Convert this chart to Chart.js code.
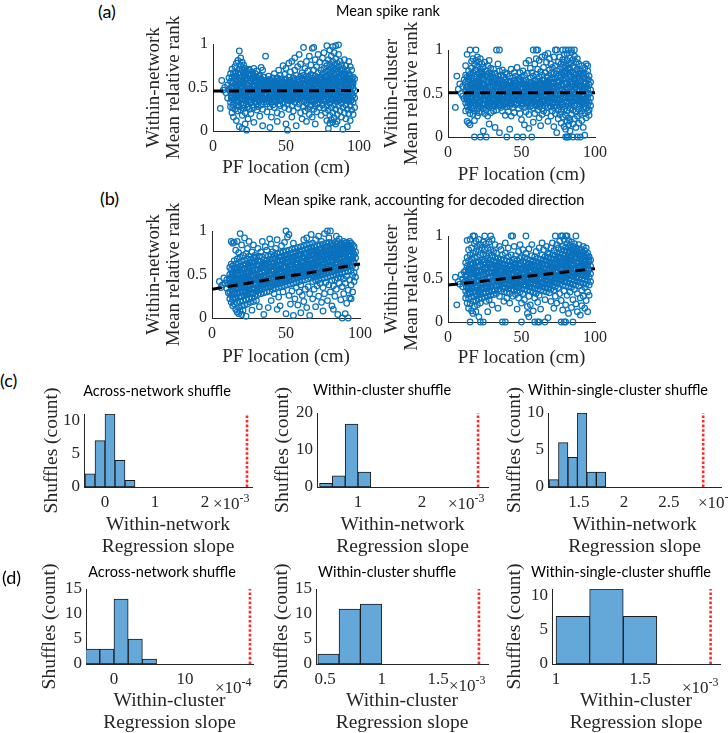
<!DOCTYPE html>
<html><head><meta charset="utf-8">
<script src="https://cdn.jsdelivr.net/npm/chart.js@4.4.1/dist/chart.umd.min.js"></script>
<style>
html,body{margin:0;padding:0;background:#fff;}
#fig{position:relative;width:728px;height:733px;overflow:hidden;background:#fff;}
sup{font-size:12px;vertical-align:7px;line-height:0;}
</style></head>
<body><div id="fig"></div>
<script>
// ---------- DATA ----------
// Scatter panels: [PF location (cm), mean relative rank in %]
const scatterA1 = [[5,26],[6,58],[7,47],[8,50],[9,44],[10,53],[10,38],[11,61],[11,47],
[12,45],[12,33],[12,57],[12,66],[12,28],[13,51],[13,41],[13,62],[13,36],[13,21],[13,71],
[14,48],[14,30],[14,55],[14,67],[14,43],[14,16],[15,53],[15,37],[15,60],[15,25],[15,74],[15,46],
[16,41],[16,63],[16,51],[16,29],[16,78],[16,12],[16,57],[17,47],[17,34],[17,66],[17,59],[17,23],[17,81],[17,44],
[18,54],[18,39],[18,71],[18,61],[18,28],[18,92],[18,46],[18,5],[19,49],[19,32],[19,75],[19,57],[19,24],[19,67],[19,84],[19,41],
[20,44],[20,62],[20,36],[20,71],[20,52],[20,18],[20,79],[20,3],[21,55],[21,30],[21,68],[21,47],[21,40],[21,76],[21,26],
[22,50],[22,64],[22,35],[22,58],[22,43],[22,21],[22,72],[22,8],[23,46],[23,61],[23,31],[23,54],[23,69],[23,38],[23,1],
[24,52],[24,40],[24,66],[24,28],[24,59],[24,45],[24,14],[25,48],[25,36],[25,63],[25,55],[25,25],[25,70],[25,42],
[26,57],[26,33],[26,47],[26,65],[26,40],[26,20],[27,44],[27,60],[27,51],[27,30],[27,68],[27,37],
[28,53],[28,41],[28,62],[28,27],[28,48],[28,72],[28,10],[29,47],[29,58],[29,34],[29,66],[29,52],
[30,41],[30,56],[30,31],[30,62],[30,49],[30,24],[30,69],[31,51],[31,37],[31,59],[31,44],[31,28],
[32,46],[32,55],[32,36],[32,64],[32,40],[32,17],[33,53],[33,43],[33,30],[33,60],[33,73],
[34,45],[34,57],[34,38],[34,25],[34,6],[34,70],[35,49],[35,41],[35,62],[35,33],[35,55],
[36,44],[36,52],[36,37],[36,58],[36,86],[37,48],[37,41],[37,31],[37,57],[37,22],
[38,46],[38,38],[38,54],[38,34],[38,63],[39,43],[39,51],[39,37],[39,28],[39,4],[39,59],
[40,50],[40,44],[40,57],[40,33],[40,16],[41,47],[41,39],[41,53],[41,61],[41,30],
[42,42],[42,51],[42,36],[42,27],[42,66],[42,47],[43,49],[43,40],[43,56],[43,34],
[44,45],[44,53],[44,38],[44,61],[44,21],[44,11],[45,42],[45,48],[45,35],[45,58],[45,70],[45,52],
[46,47],[46,41],[46,55],[46,29],[46,64],[47,44],[47,51],[47,37],[47,60],[47,19],[47,48],
[48,43],[48,50],[48,32],[48,56],[48,75],[49,46],[49,39],[49,54],[49,27],[49,65],
[50,44],[50,51],[50,36],[50,59],[50,8],[50,72],[51,48],[51,41],[51,56],[51,31],[51,1],
[52,45],[52,38],[52,53],[52,62],[52,25],[52,78],[53,42],[53,50],[53,35],[53,58],[53,68],
[54,47],[54,40],[54,55],[54,29],[54,16],[54,80],[55,44],[55,52],[55,37],[55,61],[55,23],
[56,49],[56,42],[56,57],[56,33],[56,70],[56,84],[57,46],[57,38],[57,54],[57,64],[57,6],
[58,43],[58,51],[58,36],[58,60],[58,27],[58,74],[59,48],[59,41],[59,56],[59,31],[59,88],
[60,45],[60,53],[60,38],[60,63],[60,21],[60,77],[61,42],[61,50],[61,34],[61,58],[61,67],[61,14],
[62,47],[62,39],[62,55],[62,28],[62,64],[62,96],[63,44],[63,52],[63,36],[63,60],[63,23],[63,72],
[64,49],[64,41],[64,57],[64,32],[64,80],[64,11],[65,46],[65,38],[65,54],[65,62],[65,26],[65,69],
[66,43],[66,51],[66,35],[66,59],[66,19],[66,86],[67,48],[67,40],[67,56],[67,30],[67,65],[67,76],
[68,45],[68,53],[68,37],[68,61],[68,95],[68,16],[69,42],[69,50],[69,34],[69,58],[69,25],[69,70],[69,96],
[70,47],[70,39],[70,55],[70,63],[70,29],[70,82],[70,8],[71,44],[71,52],[71,36],[71,60],[71,22],[71,74],
[72,49],[72,41],[72,57],[72,32],[72,67],[72,88],[73,46],[73,38],[73,54],[73,62],[73,27],[73,79],
[74,43],[74,51],[74,35],[74,59],[74,70],[74,18],[75,48],[75,40],[75,56],[75,30],[75,65],[75,84],
[76,45],[76,53],[76,37],[76,61],[76,26],[76,72],[76,90],[77,42],[77,50],[77,34],[77,58],[77,68],[77,21],[77,78],
[78,47],[78,39],[78,55],[78,63],[78,29],[78,75],[78,98],[78,12],[79,44],[79,52],[79,36],[79,60],[79,70],[79,24],[79,82],[79,3],
[80,49],[80,41],[80,57],[80,32],[80,66],[80,77],[80,18],[80,9],[80,93],[81,46],[81,38],[81,54],[81,62],[81,27],[81,73],[81,86],[81,13],
[82,43],[82,51],[82,35],[82,59],[82,69],[82,80],[82,21],[82,10],[82,97],[83,48],[83,40],[83,56],[83,30],[83,65],[83,76],[83,15],[83,90],
[84,45],[84,53],[84,37],[84,61],[84,71],[84,25],[84,83],[84,8],[84,98],[85,42],[85,50],[85,34],[85,58],[85,68],[85,78],[85,19],[85,11],
[86,47],[86,39],[86,55],[86,63],[86,29],[86,74],[86,88],[86,99],[87,44],[87,52],[87,36],[87,60],[87,70],[87,23],[87,80],
[88,49],[88,41],[88,57],[88,32],[88,66],[88,76],[88,16],[89,46],[89,38],[89,54],[89,62],[89,27],[89,72],[89,2],
[90,43],[90,51],[90,35],[90,59],[90,68],[90,21],[90,82],[91,48],[91,40],[91,56],[91,30],[91,65],[91,14],[91,75],
[92,45],[92,53],[92,37],[92,61],[92,25],[92,70],[92,5],[93,42],[93,50],[93,34],[93,58],[93,20],[93,66],[93,80],
[94,47],[94,39],[94,55],[94,29],[94,63],[94,12],[94,74],[95,44],[95,52],[95,36],[95,60],[95,24],[95,57],[95,70],
[96,49],[96,41],[96,33],[96,62],[96,19],[96,55],[97,46],[97,38],[97,27],[97,60]];
const scatterA1Core = [[12.5,50],[13.5,27],[14.5,63],[15.5,42],[16.5,35],[17.5,54],[18.5,65],[19.5,44],[20.5,30],[21.5,60],[22.5,39],[23.5,49],[24.5,71],[25.5,33],[26.5,52],[27.5,41],[28.5,57],[29.5,38],[30.5,45],[31.5,63],[32.5,51],[33.5,37],[34.5,48],[35.5,44],[36.5,40],[37.5,53],[38.5,49],[39.5,42],[40.5,38],[41.5,49],[42.5,55],[43.5,45],[44.5,40],[45.5,46],[46.5,51],[47.5,41],[48.5,47],[49.5,52],[50.5,40],[51.5,45],[52.5,49],[53.5,39],[54.5,51],[55.5,47],[56.5,38],[57.5,50],[58.5,47],[59.5,37],[60.5,50],[61.5,45],[62.5,52],[63.5,41],[64.5,45],[65.5,58],[66.5,48],[67.5,35],[68.5,49],[69.5,54],[70.5,43],[71.5,49],[72.5,37],[73.5,58],[74.5,47],[75.5,53],[76.5,41],[77.5,62],[78.5,51],[79.5,33],[80.5,46],[81.5,58],[82.5,40],[83.5,52],[84.5,66],[85.5,46],[86.5,36],[87.5,57],[88.5,45],[89.5,64],[90.5,48],[91.5,36],[92.5,58],[93.5,46],[94.5,52],[95.5,40],
[12.5,38],[13.5,56],[14.5,36],[15.5,68],[16.5,46],[17.5,29],[18.5,50],[19.5,37],[20.5,57],[21.5,44],[22.5,67],[23.5,27],[24.5,36],[25.5,58],[26.5,44],[27.5,65],[28.5,33],[29.5,61],[30.5,53],[31.5,34],[32.5,43],[33.5,58],[34.5,62],[35.5,36],[36.5,57],[37.5,35],[38.5,59],[39.5,55],[40.5,53],[41.5,35],[42.5,41],[43.5,60],[44.5,57],[45.5,31],[46.5,36],[47.5,56],[48.5,38],[49.5,60],[50.5,55],[51.5,35],[52.5,58],[53.5,47],[54.5,36],[55.5,59],[56.5,54],[57.5,43],[58.5,56],[59.5,52],[60.5,41],[61.5,60],[62.5,34],[63.5,55],[64.5,60],[65.5,40],[66.5,28],[67.5,54],[68.5,64],[69.5,39],[70.5,58],[71.5,31],[72.5,56],[73.5,44],[74.5,62],[75.5,36],[76.5,57],[77.5,45],[78.5,68],[79.5,56],[80.5,61],[81.5,36],[82.5,72],[83.5,43],[84.5,34],[85.5,62],[86.5,51],[87.5,41],[88.5,70],[89.5,38],[90.5,55],[91.5,61],[92.5,43],[93.5,63],[94.5,35],[95.5,56]];

const scatterA2 = [[5,34],[6,70],[7,55],[8,61],[9,50],[10,47],[10,58],[11,44],[11,66],
[12,52],[12,39],[12,63],[12,71],[12,30],[12,82],[13,47],[13,58],[13,35],[13,69],[13,18],[13,44],[13,95],
[14,55],[14,42],[14,66],[14,31],[14,76],[14,16],[14,50],[15,49],[15,61],[15,38],[15,72],[15,27],[15,100],[15,56],[15,14],
[16,53],[16,44],[16,68],[16,33],[16,79],[16,58],[16,87],[17,46],[17,59],[17,36],[17,74],[17,64],[17,26],[17,90],[17,51],
[18,57],[18,41],[18,70],[18,48],[18,30],[18,84],[18,0],[18,62],[18,19],[19,50],[19,63],[19,37],[19,77],[19,56],[19,100],[19,43],[19,88],
[20,54],[20,45],[20,67],[20,32],[20,81],[20,60],[20,24],[20,92],[21,48],[21,58],[21,39],[21,73],[21,65],[21,28],[21,86],
[22,52],[22,42],[22,69],[22,35],[22,78],[22,0],[22,59],[22,90],[23,47],[23,61],[23,38],[23,75],[23,55],[23,29],[23,84],
[24,55],[24,44],[24,66],[24,33],[24,80],[24,7],[24,50],[24,72],[25,49],[25,60],[25,37],[25,71],[25,27],[25,86],[25,43],
[26,53],[26,41],[26,64],[26,31],[26,76],[26,0],[26,57],[27,46],[27,58],[27,36],[27,69],[27,82],[27,52],[27,24],
[28,51],[28,43],[28,62],[28,34],[28,74],[28,88],[28,15],[29,48],[29,57],[29,39],[29,67],[29,28],[29,79],
[30,54],[30,42],[30,63],[30,36],[30,72],[30,47],[31,49],[31,59],[31,38],[31,68],[31,30],[31,78],
[32,52],[32,44],[32,61],[32,35],[32,73],[32,11],[33,47],[33,56],[33,40],[33,65],[33,100],[33,31],
[34,53],[34,43],[34,62],[34,37],[34,70],[34,84],[35,48],[35,58],[35,39],[35,66],[35,100],[35,5],[35,76],
[36,51],[36,44],[36,60],[36,34],[36,71],[37,46],[37,55],[37,40],[37,64],[37,30],[37,77],
[38,52],[38,43],[38,61],[38,37],[38,69],[39,49],[39,57],[39,38],[39,66],[39,25],[39,74],
[40,53],[40,45],[40,60],[40,35],[40,0],[40,72],[41,47],[41,56],[41,41],[41,64],[41,29],
[42,51],[42,42],[42,59],[42,36],[42,70],[42,9],[43,48],[43,55],[43,39],[43,63],[43,78],[43,24],
[44,52],[44,44],[44,61],[44,34],[44,68],[45,46],[45,57],[45,40],[45,65],[45,74],[45,28],
[46,50],[46,43],[46,59],[46,37],[46,70],[47,47],[47,54],[47,38],[47,62],[47,0],[47,80],
[48,53],[48,45],[48,60],[48,33],[48,67],[49,49],[49,56],[49,41],[49,64],[49,27],[49,74],
[50,51],[50,43],[50,58],[50,36],[50,69],[50,20],[51,47],[51,55],[51,39],[51,62],[51,0],[51,76],
[52,52],[52,44],[52,60],[52,34],[52,71],[52,14],[53,48],[53,57],[53,40],[53,65],[53,29],[53,85],
[54,53],[54,45],[54,61],[54,37],[54,73],[55,49],[55,56],[55,41],[55,63],[55,26],[55,88],[55,10],
[56,51],[56,43],[56,59],[56,35],[56,68],[56,79],[57,46],[57,55],[57,39],[57,62],[57,0],[57,74],
[58,52],[58,44],[58,60],[58,33],[58,70],[58,100],[58,17],[59,48],[59,57],[59,41],[59,65],[59,27],[59,84],
[60,53],[60,45],[60,61],[60,36],[60,100],[60,72],[60,90],[61,49],[61,56],[61,40],[61,64],[61,31],[61,100],[61,78],
[62,51],[62,43],[62,59],[62,35],[62,69],[62,88],[62,22],[63,47],[63,55],[63,38],[63,62],[63,75],[63,13],
[64,53],[64,44],[64,60],[64,33],[64,71],[64,92],[64,26],[65,48],[65,57],[65,41],[65,65],[65,30],[65,80],
[66,52],[66,42],[66,61],[66,36],[66,74],[66,94],[67,46],[67,55],[67,39],[67,63],[67,28],[67,86],
[68,51],[68,44],[68,59],[68,34],[68,70],[68,96],[68,18],[69,48],[69,56],[69,40],[69,66],[69,77],[69,90],
[70,53],[70,45],[70,62],[70,35],[70,73],[70,24],[70,84],[71,47],[71,58],[71,38],[71,67],[71,30],[71,80],
[72,52],[72,43],[72,61],[72,34],[72,74],[72,92],[72,12],[73,49],[73,57],[73,40],[73,68],[73,100],[73,27],[73,82],
[74,54],[74,45],[74,63],[74,36],[74,76],[74,100],[74,5],[75,48],[75,59],[75,39],[75,70],[75,31],[75,86],[75,21],
[76,53],[76,44],[76,64],[76,35],[76,78],[76,92],[76,26],[77,50],[77,60],[77,40],[77,71],[77,29],[77,84],[77,16],
[78,55],[78,46],[78,66],[78,37],[78,80],[78,100],[78,23],[78,89],[79,49],[79,61],[79,42],[79,73],[79,32],[79,86],[79,12],[79,95],
[80,54],[80,45],[80,67],[80,36],[80,82],[80,100],[80,0],[80,25],[80,76],[80,9],[81,51],[81,62],[81,41],[81,75],[81,30],[81,88],[81,0],[81,18],[81,96],
[82,56],[82,47],[82,69],[82,38],[82,84],[82,100],[82,0],[82,22],[82,78],[82,14],[83,50],[83,63],[83,43],[83,77],[83,33],[83,91],[83,7],[83,58],[83,19],
[84,55],[84,46],[84,70],[84,37],[84,85],[84,100],[84,26],[84,64],[84,97],[85,49],[85,61],[85,41],[85,74],[85,31],[85,89],[85,0],[85,15],[85,81],
[86,54],[86,45],[86,67],[86,36],[86,80],[86,100],[86,21],[86,93],[87,50],[87,62],[87,42],[87,72],[87,29],[87,86],[87,11],[87,58],
[88,55],[88,46],[88,68],[88,38],[88,78],[88,0],[88,24],[88,90],[89,49],[89,60],[89,41],[89,73],[89,32],[89,84],[89,16],
[90,53],[90,44],[90,65],[90,36],[90,76],[90,0],[90,27],[90,58],[91,48],[91,59],[91,40],[91,70],[91,30],[91,82],[91,19],
[92,52],[92,43],[92,63],[92,34],[92,74],[92,11],[92,56],[93,47],[93,57],[93,38],[93,68],[93,27],[93,79],[93,2],
[94,51],[94,42],[94,62],[94,33],[94,72],[94,22],[94,84],[95,46],[95,55],[95,37],[95,66],[95,29],[95,76],[95,82],
[96,50],[96,40],[96,60],[96,31],[96,70],[96,25],[97,45],[97,54],[97,36],[97,63]];
const scatterA2Core = [[12.5,57],[13.5,40],[14.5,70],[15.5,46],[16.5,62],[17.5,33],[18.5,77],[19.5,53],[20.5,40],[21.5,62],[22.5,47],[23.5,68],[24.5,38],[25.5,55],[26.5,72],[27.5,44],[28.5,58],[29.5,36],[30.5,51],[31.5,64],[32.5,40],[33.5,59],[34.5,48],[35.5,53],[36.5,42],[37.5,61],[38.5,47],[39.5,54],[40.5,39],[41.5,52],[42.5,63],[43.5,44],[44.5,57],[45.5,50],[46.5,39],[47.5,58],[48.5,49],[49.5,42],[50.5,61],[51.5,51],[52.5,45],[53.5,56],[54.5,41],[55.5,52],[56.5,63],[57.5,48],[58.5,55],[59.5,38],[60.5,58],[61.5,46],[62.5,64],[63.5,51],[64.5,40],[65.5,61],[66.5,48],[67.5,68],[68.5,55],[69.5,36],[70.5,50],[71.5,63],[72.5,45],[73.5,72],[74.5,58],[75.5,42],[76.5,68],[77.5,54],[78.5,75],[79.5,45],[80.5,62],[81.5,79],[82.5,51],[83.5,69],[84.5,40],[85.5,66],[86.5,57],[87.5,77],[88.5,48],[89.5,64],[90.5,41],[91.5,55],[92.5,68],[93.5,44],[94.5,58],[95.5,49],
[12.5,45],[13.5,64],[14.5,50],[15.5,35],[16.5,41],[17.5,56],[18.5,45],[19.5,69],[20.5,58],[21.5,36],[22.5,73],[23.5,52],[24.5,60],[25.5,43],[26.5,48],[27.5,65],[28.5,39],[29.5,70],[30.5,44],[31.5,37],[32.5,67],[33.5,45],[34.5,62],[35.5,37],[36.5,58],[37.5,49],[38.5,66],[39.5,40],[40.5,56],[41.5,44],[42.5,38],[43.5,59],[44.5,42],[45.5,62],[46.5,53],[47.5,43],[48.5,66],[49.5,56],[50.5,38],[51.5,64],[52.5,58],[53.5,40],[54.5,60],[55.5,44],[56.5,36],[57.5,60],[58.5,42],[59.5,52],[60.5,44],[61.5,61],[62.5,38],[63.5,56],[64.5,66],[65.5,43],[66.5,60],[67.5,41],[68.5,63],[69.5,58],[70.5,67],[71.5,40],[72.5,57],[73.5,48],[74.5,39],[75.5,63],[76.5,50],[77.5,38],[78.5,58],[79.5,70],[80.5,40],[81.5,55],[82.5,72],[83.5,45],[84.5,61],[85.5,52],[86.5,71],[87.5,44],[88.5,62],[89.5,38],[90.5,60],[91.5,72],[92.5,49],[93.5,61],[94.5,41],[95.5,66]];

const scatterB1 = [[5,42],[6,35],[7,38],[8,46],[9,40],[10,34],[10,44],[11,39],[11,29],
[12,40],[12,30],[12,50],[12,22],[12,58],[12,45],[13,36],[13,47],[13,26],[13,55],[13,18],[13,62],[13,88],
[14,42],[14,31],[14,52],[14,21],[14,60],[14,14],[14,86],[14,38],[15,37],[15,48],[15,27],[15,57],[15,16],[15,66],[15,87],[15,44],
[16,43],[16,33],[16,53],[16,23],[16,62],[16,10],[16,78],[16,39],[17,38],[17,49],[17,28],[17,58],[17,17],[17,68],[17,88],[17,7],[17,45],
[18,44],[18,34],[18,55],[18,24],[18,63],[18,12],[18,75],[18,5],[18,40],[19,39],[19,50],[19,29],[19,59],[19,19],[19,70],[19,97],[19,8],[19,46],
[20,45],[20,35],[20,56],[20,25],[20,65],[20,14],[20,84],[20,4],[20,41],[21,40],[21,51],[21,30],[21,61],[21,20],[21,72],[21,9],[21,47],
[22,46],[22,36],[22,57],[22,26],[22,66],[22,15],[22,92],[22,42],[23,41],[23,52],[23,31],[23,62],[23,21],[23,74],[23,2],[23,48],
[24,47],[24,37],[24,58],[24,27],[24,68],[24,16],[24,80],[24,43],[25,42],[25,53],[25,32],[25,63],[25,22],[25,71],[25,88],[25,49],
[26,48],[26,38],[26,59],[26,28],[26,67],[26,18],[26,44],[27,43],[27,54],[27,33],[27,64],[27,23],[27,76],[27,9],
[28,49],[28,39],[28,60],[28,29],[28,69],[28,19],[28,84],[29,44],[29,55],[29,34],[29,65],[29,25],[29,72],
[30,50],[30,40],[30,61],[30,31],[30,70],[30,20],[30,46],[31,45],[31,56],[31,36],[31,66],[31,27],[31,80],
[32,51],[32,41],[32,60],[32,32],[32,71],[32,13],[33,46],[33,57],[33,37],[33,65],[33,28],[33,76],
[34,52],[34,42],[34,62],[34,33],[34,70],[34,88],[35,47],[35,58],[35,38],[35,67],[35,29],[35,4],
[36,53],[36,43],[36,61],[36,35],[36,72],[36,82],[37,48],[37,57],[37,39],[37,66],[37,30],[37,78],
[38,54],[38,44],[38,63],[38,36],[38,71],[38,12],[39,49],[39,58],[39,40],[39,67],[39,31],[39,91],
[40,55],[40,45],[40,64],[40,37],[40,73],[40,20],[40,85],[41,50],[41,59],[41,41],[41,68],[41,33],[41,76],
[42,54],[42,46],[42,63],[42,38],[42,72],[42,28],[43,51],[43,60],[43,42],[43,69],[43,34],[43,80],
[44,56],[44,47],[44,65],[44,39],[44,74],[44,10],[44,90],[45,52],[45,61],[45,43],[45,70],[45,35],[45,24],
[46,57],[46,48],[46,66],[46,40],[46,75],[46,14],[47,53],[47,62],[47,44],[47,71],[47,36],[47,83],
[48,58],[48,49],[48,67],[48,41],[48,76],[48,30],[49,54],[49,63],[49,45],[49,72],[49,37],[49,87],
[50,59],[50,50],[50,68],[50,42],[50,77],[50,100],[50,5],[51,55],[51,64],[51,46],[51,73],[51,38],[51,93],
[52,60],[52,51],[52,69],[52,43],[52,78],[52,26],[52,96],[53,56],[53,65],[53,47],[53,74],[53,39],[53,16],
[54,61],[54,52],[54,70],[54,44],[54,79],[54,31],[55,57],[55,66],[55,48],[55,75],[55,40],[55,3],[55,86],
[56,62],[56,53],[56,71],[56,45],[56,80],[56,22],[57,58],[57,67],[57,49],[57,76],[57,41],[57,35],
[58,63],[58,54],[58,72],[58,46],[58,81],[58,15],[59,59],[59,68],[59,50],[59,77],[59,42],[59,30],
[60,64],[60,55],[60,73],[60,47],[60,82],[60,38],[60,6],[61,60],[61,69],[61,51],[61,78],[61,43],[61,26],
[62,65],[62,56],[62,74],[62,48],[62,83],[62,90],[62,19],[63,61],[63,70],[63,52],[63,79],[63,44],[63,33],
[64,66],[64,57],[64,75],[64,49],[64,84],[64,12],[64,92],[65,62],[65,71],[65,53],[65,80],[65,45],[65,36],
[66,67],[66,58],[66,76],[66,50],[66,85],[66,3],[66,28],[67,63],[67,72],[67,54],[67,81],[67,46],[67,96],
[68,59],[68,68],[68,50],[68,77],[68,42],[68,86],[68,22],[69,64],[69,55],[69,73],[69,47],[69,82],[69,33],
[70,60],[70,69],[70,51],[70,78],[70,43],[70,90],[70,13],[71,65],[71,56],[71,74],[71,48],[71,83],[71,37],
[72,61],[72,70],[72,52],[72,79],[72,44],[72,25],[72,94],[73,66],[73,57],[73,75],[73,49],[73,84],[73,40],
[74,62],[74,71],[74,53],[74,80],[74,45],[74,88],[74,18],[75,67],[75,58],[75,76],[75,50],[75,85],[75,8],[75,35],
[76,63],[76,72],[76,54],[76,81],[76,46],[76,97],[76,28],[77,68],[77,59],[77,77],[77,51],[77,86],[77,41],
[78,64],[78,73],[78,55],[78,82],[78,47],[78,100],[78,20],[79,69],[79,60],[79,78],[79,52],[79,87],[79,38],[79,92],
[80,65],[80,74],[80,56],[80,83],[80,48],[80,100],[80,30],[81,70],[81,61],[81,79],[81,53],[81,86],[81,43],[81,14],
[82,66],[82,75],[82,57],[82,84],[82,49],[82,10],[82,37],[83,71],[83,62],[83,80],[83,54],[83,87],[83,44],[83,25],
[84,67],[84,76],[84,58],[84,85],[84,50],[84,33],[84,94],[85,72],[85,63],[85,81],[85,55],[85,88],[85,46],[85,4],
[86,68],[86,77],[86,59],[86,84],[86,51],[86,40],[86,91],[87,73],[87,64],[87,82],[87,56],[87,86],[87,47],[87,21],
[88,69],[88,78],[88,60],[88,85],[88,52],[88,0],[88,36],[89,74],[89,65],[89,83],[89,57],[89,88],[89,45],[89,28],
[90,70],[90,79],[90,61],[90,86],[90,53],[90,5],[90,40],[91,75],[91,66],[91,84],[91,58],[91,87],[91,48],[91,17],
[92,71],[92,80],[92,62],[92,85],[92,54],[92,32],[92,0],[93,76],[93,67],[93,83],[93,59],[93,88],[93,44],[93,23],
[94,72],[94,81],[94,63],[94,55],[94,22],[94,38],[94,86],[95,77],[95,68],[95,84],[95,49],[95,60],[95,30],
[96,73],[96,64],[96,52],[96,82],[96,42],[97,69],[97,58],[97,76],[97,47]];
const scatterB1Core = [[12.5,37],[13.5,50],[14.5,28],[15.5,45],[16.5,56],[17.5,33],[18.5,48],[19.5,25],[20.5,52],[21.5,38],[22.5,61],[23.5,44],[24.5,30],[25.5,56],[26.5,41],[27.5,49],[28.5,63],[29.5,38],[30.5,55],[31.5,46],[32.5,35],[33.5,60],[34.5,48],[35.5,55],[36.5,40],[37.5,62],[38.5,50],[39.5,45],[40.5,59],[41.5,47],[42.5,68],[43.5,55],[44.5,43],[45.5,60],[46.5,51],[47.5,66],[48.5,46],[49.5,58],[50.5,71],[51.5,52],[52.5,47],[53.5,62],[54.5,56],[55.5,70],[56.5,50],[57.5,61],[58.5,55],[59.5,73],[60.5,52],[61.5,64],[62.5,58],[63.5,49],[64.5,70],[65.5,60],[66.5,54],[67.5,77],[68.5,63],[69.5,58],[70.5,72],[71.5,52],[72.5,66],[73.5,78],[74.5,59],[75.5,70],[76.5,57],[77.5,82],[78.5,67],[79.5,74],[80.5,60],[81.5,77],[82.5,70],[83.5,63],[84.5,80],[85.5,68],[86.5,74],[87.5,61],[88.5,80],[89.5,70],[90.5,76],[91.5,64],[92.5,82],[93.5,71],[94.5,77],[95.5,65],
[12.5,44],[13.5,31],[14.5,47],[15.5,24],[16.5,36],[17.5,52],[18.5,30],[19.5,42],[20.5,31],[21.5,56],[22.5,29],[23.5,35],[24.5,52],[25.5,37],[26.5,60],[27.5,28],[28.5,44],[29.5,52],[30.5,35],[31.5,61],[32.5,48],[33.5,42],[34.5,38],[35.5,63],[36.5,47],[37.5,44],[38.5,58],[39.5,36],[40.5,50],[41.5,62],[42.5,42],[43.5,48],[44.5,58],[45.5,46],[46.5,70],[47.5,52],[48.5,59],[49.5,44],[50.5,54],[51.5,64],[52.5,58],[53.5,51],[54.5,68],[55.5,49],[56.5,64],[57.5,53],[58.5,74],[59.5,56],[60.5,66],[61.5,56],[62.5,70],[63.5,62],[64.5,56],[65.5,72],[66.5,66],[67.5,58],[68.5,74],[69.5,66],[70.5,60],[71.5,76],[72.5,58],[73.5,68],[74.5,74],[75.5,62],[76.5,78],[77.5,71],[78.5,60],[79.5,80],[80.5,72],[81.5,65],[82.5,78],[83.5,74],[84.5,70],[85.5,78],[86.5,64],[87.5,76],[88.5,72],[89.5,82],[90.5,66],[91.5,79],[92.5,73],[93.5,80],[94.5,68],[95.5,74]];

const scatterB2 = [[5,52],[6,20],[7,47],[8,44],[9,55],[10,41],[10,50],[11,46],[11,58],
[12,48],[12,36],[12,60],[12,28],[12,69],[12,54],[13,44],[13,55],[13,32],[13,65],[13,22],[13,75],[13,95],
[14,50],[14,39],[14,62],[14,27],[14,71],[14,16],[14,84],[14,45],[15,45],[15,57],[15,34],[15,67],[15,21],[15,0],[15,78],[15,96],
[16,51],[16,41],[16,63],[16,29],[16,73],[16,13],[16,86],[16,47],[17,46],[17,58],[17,35],[17,68],[17,24],[17,100],[17,80],[17,10],
[18,52],[18,42],[18,64],[18,30],[18,75],[18,18],[18,100],[18,91],[18,56],[19,47],[19,59],[19,36],[19,69],[19,25],[19,82],[19,12],[19,94],
[20,53],[20,43],[20,65],[20,31],[20,76],[20,20],[20,88],[20,49],[21,48],[21,60],[21,37],[21,70],[21,27],[21,84],[21,6],[21,96],
[22,54],[22,44],[22,66],[22,32],[22,78],[22,0],[22,22],[22,90],[23,49],[23,61],[23,38],[23,72],[23,28],[23,86],[23,58],
[24,55],[24,45],[24,67],[24,33],[24,79],[24,0],[24,93],[24,40],[25,50],[25,62],[25,39],[25,73],[25,29],[25,100],[25,84],
[26,56],[26,46],[26,68],[26,34],[26,77],[26,24],[26,91],[27,51],[27,63],[27,40],[27,74],[27,30],[27,86],[27,12],
[28,57],[28,47],[28,69],[28,35],[28,80],[28,93],[28,26],[29,52],[29,64],[29,41],[29,72],[29,100],[29,31],[29,84],
[30,58],[30,48],[30,67],[30,36],[30,77],[30,20],[30,96],[31,53],[31,62],[31,42],[31,71],[31,32],[31,82],
[32,57],[32,49],[32,66],[32,37],[32,75],[32,90],[33,52],[33,61],[33,43],[33,70],[33,33],[33,80],
[34,56],[34,47],[34,65],[34,38],[34,74],[34,16],[35,51],[35,60],[35,42],[35,69],[35,30],[35,88],
[36,55],[36,46],[36,64],[36,36],[36,73],[36,84],[37,50],[37,59],[37,41],[37,68],[37,0],[37,78],
[38,54],[38,45],[38,63],[38,35],[38,72],[38,24],[39,49],[39,58],[39,40],[39,67],[39,0],[39,80],[39,92],
[40,53],[40,44],[40,62],[40,34],[40,71],[40,28],[41,48],[41,57],[41,39],[41,66],[41,76],[41,86],
[42,52],[42,43],[42,61],[42,33],[42,70],[42,22],[43,56],[43,47],[43,65],[43,38],[43,100],[43,78],
[44,51],[44,60],[44,42],[44,69],[44,100],[44,30],[45,55],[45,46],[45,64],[45,37],[45,73],[45,88],
[46,50],[46,59],[46,41],[46,68],[46,32],[46,77],[47,54],[47,45],[47,63],[47,36],[47,72],[47,15],
[48,49],[48,58],[48,40],[48,67],[48,28],[48,82],[49,53],[49,44],[49,62],[49,35],[49,74],[49,90],
[50,57],[50,48],[50,66],[50,39],[50,0],[50,76],[50,22],[51,52],[51,61],[51,43],[51,70],[51,33],[51,84],
[52,56],[52,47],[52,65],[52,38],[52,75],[52,26],[53,51],[53,60],[53,42],[53,69],[53,100],[53,80],
[54,55],[54,46],[54,64],[54,37],[54,73],[54,18],[54,10],[55,50],[55,59],[55,41],[55,68],[55,30],[55,85],[55,6],
[56,54],[56,45],[56,63],[56,36],[56,72],[56,20],[57,58],[57,49],[57,67],[57,40],[57,77],[57,90],
[58,53],[58,62],[58,44],[58,71],[58,35],[58,13],[59,57],[59,48],[59,66],[59,39],[59,0],[59,76],[59,28],
[60,52],[60,61],[60,43],[60,70],[60,33],[60,82],[61,56],[61,47],[61,65],[61,38],[61,0],[61,74],[61,23],
[62,51],[62,60],[62,42],[62,69],[62,0],[62,86],[62,31],[63,55],[63,46],[63,64],[63,37],[63,73],[63,15],
[64,59],[64,50],[64,68],[64,41],[64,78],[64,92],[65,54],[65,63],[65,45],[65,72],[65,36],[65,84],
[66,58],[66,49],[66,67],[66,40],[66,0],[66,76],[66,26],[67,53],[67,62],[67,44],[67,71],[67,35],[67,88],
[68,57],[68,48],[68,66],[68,39],[68,75],[68,80],[68,5],[69,61],[69,52],[69,70],[69,43],[69,79],[69,34],
[70,56],[70,65],[70,47],[70,74],[70,38],[70,86],[70,24],[71,60],[71,51],[71,69],[71,42],[71,78],[71,92],
[72,55],[72,64],[72,46],[72,73],[72,37],[72,83],[72,16],[73,59],[73,50],[73,68],[73,41],[73,77],[73,100],[73,30],
[74,63],[74,54],[74,72],[74,45],[74,81],[74,90],[74,22],[75,58],[75,67],[75,49],[75,76],[75,40],[75,86],
[76,62],[76,53],[76,71],[76,44],[76,80],[76,94],[76,33],[77,57],[77,66],[77,48],[77,75],[77,100],[77,0],[77,84],[77,25],
[78,61],[78,52],[78,70],[78,43],[78,79],[78,100],[78,88],[78,14],[79,65],[79,56],[79,74],[79,47],[79,83],[79,0],[79,36],[79,96],
[80,60],[80,69],[80,51],[80,78],[80,42],[80,100],[80,0],[80,87],[80,20],[81,64],[81,55],[81,73],[81,46],[81,82],[81,100],[81,31],[81,91],
[82,59],[82,68],[82,50],[82,77],[82,41],[82,86],[82,10],[82,95],[83,63],[83,54],[83,72],[83,45],[83,81],[83,35],[83,89],
[84,67],[84,58],[84,76],[84,49],[84,84],[84,40],[84,17],[84,93],[85,62],[85,71],[85,53],[85,80],[85,44],[85,0],[85,88],[85,26],
[86,66],[86,57],[86,75],[86,48],[86,83],[86,38],[86,91],[87,61],[87,70],[87,52],[87,79],[87,43],[87,100],[87,86],[87,21],
[88,65],[88,56],[88,74],[88,47],[88,82],[88,33],[88,12],[89,69],[89,60],[89,78],[89,51],[89,85],[89,42],[89,90],
[90,64],[90,55],[90,73],[90,46],[90,81],[90,28],[90,8],[91,68],[91,59],[91,77],[91,50],[91,84],[91,37],[91,19],
[92,63],[92,72],[92,54],[92,80],[92,45],[92,88],[92,30],[93,67],[93,58],[93,76],[93,49],[93,83],[93,40],[93,16],
[94,62],[94,71],[94,53],[94,78],[94,44],[94,86],[94,25],[95,66],[95,57],[95,75],[95,48],[95,35],[95,80],[95,12],
[96,61],[96,70],[96,52],[96,43],[96,31],[96,76],[97,65],[97,56],[97,47],[97,72]];
const scatterB2Core = [[12.5,52],[13.5,38],[14.5,60],[15.5,44],[16.5,67],[17.5,50],[18.5,33],[19.5,57],[20.5,46],[21.5,65],[22.5,40],[23.5,55],[24.5,70],[25.5,47],[26.5,60],[27.5,36],[28.5,52],[29.5,64],[30.5,45],[31.5,58],[32.5,42],[33.5,66],[34.5,52],[35.5,47],[36.5,61],[37.5,39],[38.5,56],[39.5,62],[40.5,48],[41.5,54],[42.5,66],[43.5,44],[44.5,57],[45.5,50],[46.5,63],[47.5,40],[48.5,55],[49.5,68],[50.5,47],[51.5,58],[52.5,43],[53.5,64],[54.5,53],[55.5,45],[56.5,59],[57.5,70],[58.5,49],[59.5,61],[60.5,55],[61.5,42],[62.5,66],[63.5,58],[64.5,47],[65.5,62],[66.5,71],[67.5,50],[68.5,60],[69.5,45],[70.5,64],[71.5,56],[72.5,69],[73.5,52],[74.5,60],[75.5,74],[76.5,48],[77.5,63],[78.5,57],[79.5,70],[80.5,52],[81.5,66],[82.5,60],[83.5,76],[84.5,55],[85.5,67],[86.5,62],[87.5,52],[88.5,70],[89.5,64],[90.5,58],[91.5,72],[92.5,60],[93.5,55],[94.5,68],[95.5,60],
[12.5,41],[13.5,58],[14.5,34],[15.5,62],[16.5,39],[17.5,61],[18.5,55],[19.5,40],[20.5,70],[21.5,35],[22.5,58],[23.5,45],[24.5,50],[25.5,63],[26.5,39],[27.5,58],[28.5,67],[29.5,42],[30.5,62],[31.5,37],[32.5,55],[33.5,48],[34.5,64],[35.5,58],[36.5,44],[37.5,66],[38.5,45],[39.5,52],[40.5,60],[41.5,42],[42.5,49],[43.5,61],[44.5,46],[45.5,66],[46.5,44],[47.5,60],[48.5,48],[49.5,53],[50.5,63],[51.5,44],[52.5,62],[53.5,49],[54.5,66],[55.5,60],[56.5,46],[57.5,55],[58.5,66],[59.5,44],[60.5,64],[61.5,58],[62.5,50],[63.5,44],[64.5,68],[65.5,52],[66.5,57],[67.5,66],[68.5,48],[69.5,67],[70.5,52],[71.5,64],[72.5,50],[73.5,73],[74.5,66],[75.5,54],[76.5,70],[77.5,50],[78.5,72],[79.5,58],[80.5,74],[81.5,54],[82.5,70],[83.5,62],[84.5,78],[85.5,56],[86.5,74],[87.5,68],[88.5,58],[89.5,76],[90.5,66],[91.5,60],[92.5,76],[93.5,70],[94.5,56],[95.5,72]];

// Regression fit line endpoints (value at x=0 and x=100)
const fitA1 = [0.46, 0.465];
const fitA2 = [0.51, 0.51];
const fitB1 = [0.33, 0.62];
const fitB2 = [0.43, 0.62];
const fitX = [0, 100];

// Shuffle histograms (bin centres in displayed units, counts)
const cAcrossBins = [-0.3, -0.1, 0.1, 0.3, 0.5];
const cAcrossCounts = [2, 7, 11, 4, 1];
const cWithinBins = [0.5, 0.7, 0.9, 1.1];
const cWithinCounts = [1, 3, 17, 4];
const cSingleBins = [1.22, 1.325, 1.43, 1.535, 1.64, 1.745];
const cSingleCounts = [1, 6, 4, 10, 2, 2];
const dAcrossBins = [-3, -1, 1, 3, 5];
const dAcrossCounts = [3, 3, 13, 5, 1];
const dWithinBins = [0.53, 0.718, 0.906];
const dWithinCounts = [2, 11, 12];
const dSingleBins = [1.1, 1.3, 1.5];
const dSingleCounts = [7, 11, 7];
// Observed (real-data) slopes shown as red dotted lines
const cObserved = [2.84, 2.875, 2.88];
const dObserved = [19.15, 1.86, 1.92];

// Tick labels
const scatterXTicks = [0, 50, 100];
const scatterYTicks = [0, 0.5, 1];

// ---------- DRAWING ----------
const SERIF = '"Liberation Serif","Times New Roman",serif';
const SANS = 'Lato,"Noto Sans",sans-serif';
const AX = '#262626';
const fig = document.getElementById('fig');

function addText(html, x, y, css, centered) {
  const d = document.createElement('div');
  d.innerHTML = html;
  d.style.cssText = 'position:absolute;white-space:nowrap;line-height:1;' + css;
  d.style.left = x + 'px';
  d.style.top = y + 'px';
  d.style.transform = centered ? 'translate(-50%,-50%)' : 'translate(0,-50%)';
  fig.appendChild(d);
}

function makeCanvas(box, yTitleX, yLH, xTitleY, xLH, padT, padR) {
  const cl = yTitleX - yLH / 2;
  const ct = box.t - padT;
  const cr = box.r + padR;
  const cb = xTitleY + xLH / 2;
  const cv = document.createElement('canvas');
  cv.width = cr - cl; cv.height = cb - ct;
  cv.style.cssText = `position:absolute;left:${cl}px;top:${ct}px;width:${cr - cl}px;height:${cb - ct}px`;
  fig.appendChild(cv);
  return { ctx: cv.getContext('2d'), padL: box.l - cl, padB: cb - box.b, padT, padR };
}

function axis(which, min, max, ticks, fixed, tickSize, tickPad, titleText, titleSize, titleLH) {
  return {
    type: 'linear', position: which === 'x' ? 'bottom' : 'left', min, max, offset: false,
    afterBuildTicks: s => { s.ticks = ticks.map(v => ({ value: v })); },
    afterFit: s => { if (which === 'x') s.height = fixed; else s.width = fixed; },
    grid: { display: false, drawTicks: false },
    border: { display: true, color: AX, width: 1 },
    ticks: { color: AX, font: { family: SERIF, size: tickSize }, padding: tickPad, maxRotation: 0, minRotation: 0, autoSkip: false, callback: v => String(v) },
    title: { display: true, text: titleText, color: AX, padding: 0, font: { family: SERIF, size: titleSize, lineHeight: titleLH + 'px' } }
  };
}

const baseOpts = (c) => ({
  responsive: false, animation: false, devicePixelRatio: 1,
  layout: { padding: { left: 0, bottom: 0, top: c.padT, right: c.padR } },
  plugins: { legend: { display: false }, tooltip: { enabled: false }, title: { display: false } },
  events: []
});

function scatterPanel(points, fit, box, yTitle, yTitleX, xTitleY) {
  const c = makeCanvas(box, yTitleX, 20, xTitleY, 20, 42, 22);
  const opts = baseOpts(c);
  opts.scales = {
    x: axis('x', 0, 100, scatterXTicks, c.padB, 16, 6, 'PF location (cm)', 19, 20),
    y: axis('y', 0, 1, scatterYTicks, c.padL, 16, 5, yTitle, 19, 20)
  };
  new Chart(c.ctx, {
    type: 'scatter',
    data: { datasets: [
      { type: 'line', data: fitX.map((x, i) => ({ x, y: fit[i] })), borderColor: '#000', borderWidth: 3,
        borderDash: [10, 6], pointRadius: 0, fill: false, clip: false },
      { type: 'scatter', data: points.map(p => ({ x: p[0], y: p[1] / 100 })), pointRadius: 2.8, pointBorderWidth: 1.25,
        pointBorderColor: '#0a72bd', pointBackgroundColor: 'rgba(0,0,0,0)', borderColor: '#0a72bd', backgroundColor: 'rgba(0,0,0,0)', clip: false }
    ] },
    options: opts
  });
}

function histPanel(bins, counts, observed, box, xr, yr, xt, yt, xTitle, yTitleX, xTitleY) {
  const c = makeCanvas(box, yTitleX, 20, xTitleY, 22, 42, 24);
  const opts = baseOpts(c);
  opts.scales = {
    x: axis('x', xr[0], xr[1], xt, c.padB, 17, 5, xTitle, 19.5, 22),
    y: axis('y', yr[0], yr[1], yt, c.padL, 17, 4, 'Shuffles (count)', 19.5, 20)
  };
  new Chart(c.ctx, {
    type: 'bar',
    data: { datasets: [
      { type: 'line', data: [{ x: observed, y: yr[0] }, { x: observed, y: yr[1] }], borderColor: '#ff2a2a', borderWidth: 2.6,
        borderDash: [2.6, 2], pointRadius: 0, fill: false, clip: false },
      { type: 'bar', data: bins.map((b, i) => ({ x: b, y: counts[i] })), backgroundColor: '#63a8d8', borderColor: '#1b1b1b',
        borderWidth: 1, borderSkipped: false, barPercentage: 1, categoryPercentage: 1, grouped: false }
    ] },
    options: opts
  });
}

// Row (a)
scatterPanel(scatterA1.concat(scatterA1Core), fitA1, { l: 213, t: 44, r: 359, b: 131 }, ['Within-network', 'Mean relative rank'], 154, 168);
scatterPanel(scatterA2.concat(scatterA2Core), fitA2, { l: 448, t: 50, r: 595, b: 137 }, ['Within-cluster', 'Mean relative rank'], 392, 175);
// Row (b)
scatterPanel(scatterB1.concat(scatterB1Core), fitB1, { l: 212, t: 231, r: 360, b: 318 }, ['Within-network', 'Mean relative rank'], 154, 357);
scatterPanel(scatterB2.concat(scatterB2Core), fitB2, { l: 448, t: 236, r: 595, b: 322 }, ['Within-cluster', 'Mean relative rank'], 392, 358);

// Row (c)
const netTitle = ['Within-network', 'Regression slope'];
const cluTitle = ['Within-cluster', 'Regression slope'];
histPanel(cAcrossBins, cAcrossCounts, cObserved[0], { l: 84, t: 414, r: 252, b: 487 }, [-0.42, 2.94], [0, 11], [0, 1, 2], [0, 5, 10], netTitle, 52, 547);
histPanel(cWithinBins, cWithinCounts, cObserved[1], { l: 317, t: 413, r: 488, b: 487 }, [0.36, 3.03], [0, 20], [1, 2], [0, 10, 20], netTitle, 283, 547);
histPanel(cSingleBins, cSingleCounts, cObserved[2], { l: 548, t: 413, r: 721, b: 487 }, [1.156, 3.078], [0, 10], [1.5, 2, 2.5], [0, 5, 10], netTitle, 515, 547);
// Row (d)
histPanel(dAcrossBins, dAcrossCounts, dObserved[0], { l: 86, t: 589, r: 253, b: 664 }, [-3.94, 19.58], [0, 15], [0, 10], [0, 5, 10, 15], cluTitle, 50, 723);
histPanel(dWithinBins, dWithinCounts, dObserved[1], { l: 316, t: 589, r: 488, b: 664 }, [0.42, 1.94], [0, 15], [0.5, 1, 1.5], [0, 5, 10, 15], cluTitle, 282, 723);
histPanel(dSingleBins, dSingleCounts, dObserved[2], { l: 552, t: 589, r: 720, b: 664 }, [0.976, 1.976], [0, 11], [1, 1.5], [0, 5, 10], cluTitle, 515, 723);

// Text labels
const panelCss = `font-family:${SANS};font-size:18px;color:#000;`;
const titleCss = `font-family:${SANS};font-size:14.5px;color:#000;`;
const expCss = `font-family:${SERIF};font-size:17px;color:${AX};`;
addText('(a)', 98, 11, panelCss, false);
addText('Mean spike rank', 388, 11, titleCss, true);
addText('(b)', 100, 198, panelCss, false);
addText('Mean spike rank, accounting for decoded direction', 424, 200, titleCss, true);
addText('(c)', 0, 380, panelCss, false);
addText('(d)', 2, 577, panelCss, false);
addText('Across-network shuffle', 157, 391, titleCss, true);
addText('Within-cluster shuffle', 382, 390, titleCss, true);
addText('Within-single-cluster shuffle', 618, 390, titleCss, true);
addText('Across-network shuffle', 162, 572, titleCss, true);
addText('Within-cluster shuffle', 387, 572, titleCss, true);
addText('Within-single-cluster shuffle', 621, 572, titleCss, true);
addText('×10<sup>-3</sup>', 213, 503, expCss, false);
addText('×10<sup>-3</sup>', 448, 503, expCss, false);
addText('×10<sup>-3</sup>', 698, 502, expCss, false);
addText('×10<sup>-4</sup>', 215, 687, expCss, false);
addText('×10<sup>-3</sup>', 449, 685, expCss, false);
addText('×10<sup>-3</sup>', 682, 687, expCss, false);
</script>
</body></html>
